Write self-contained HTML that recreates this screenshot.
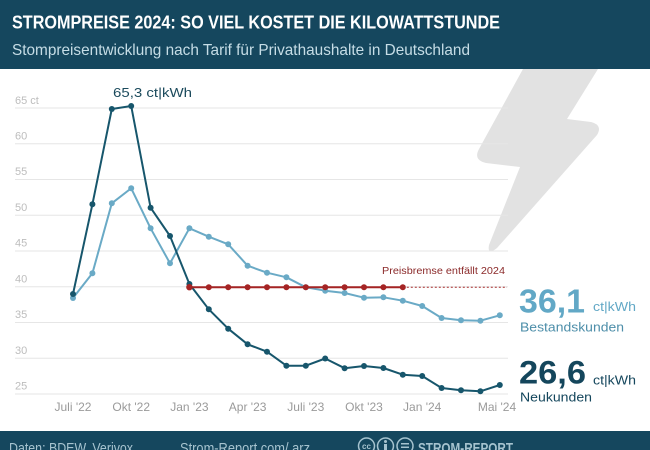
<!DOCTYPE html>
<html><head><meta charset="utf-8">
<style>
html,body{margin:0;padding:0;background:#fff;}
svg{display:block;}
text{font-family:"Liberation Sans",sans-serif;}
</style></head>
<body>
<svg width="650" height="450" viewBox="0 0 650 450" xmlns="http://www.w3.org/2000/svg">
<rect x="0" y="0" width="650" height="450" fill="#ffffff"/>
<!-- header -->
<rect x="0" y="0" width="650" height="69" fill="#15475e"/>
<text x="12" y="28.5" font-size="18" font-weight="bold" fill="#ffffff" textLength="488" lengthAdjust="spacingAndGlyphs">STROMPREISE 2024: SO VIEL KOSTET DIE KILOWATTSTUNDE</text>
<text x="12" y="55" font-size="16" fill="#c6dde6" textLength="458" lengthAdjust="spacingAndGlyphs">Stompreisentwicklung nach Tarif für Privathaushalte in Deutschland</text>

<!-- lightning bolt -->
<path d="M523,69 L598,69 L567,119 L591,122 Q603,125 597,135 L497,248 Q487,256 489,245 L520,167 L486,163 Q473,160 479,149 Z" fill="#e2e2e2"/>

<!-- gridlines -->
<g stroke="#e6e6e6" stroke-width="1">
<line x1="15" x2="508" y1="108" y2="108"/>
<line x1="15" x2="508" y1="143.75" y2="143.75"/>
<line x1="15" x2="508" y1="179.5" y2="179.5"/>
<line x1="15" x2="508" y1="215.25" y2="215.25"/>
<line x1="15" x2="508" y1="251" y2="251"/>
<line x1="15" x2="508" y1="286.75" y2="286.75"/>
<line x1="15" x2="508" y1="322.5" y2="322.5"/>
<line x1="15" x2="508" y1="358.25" y2="358.25"/>
<line x1="15" x2="508" y1="394" y2="394"/>
</g>

<!-- y labels -->
<g font-size="11" fill="#bdbdbd">
<text x="15" y="104">65 ct</text>
<text x="15" y="139.5">60</text>
<text x="15" y="175">55</text>
<text x="15" y="211">50</text>
<text x="15" y="246.5">45</text>
<text x="15" y="282.5">40</text>
<text x="15" y="318">35</text>
<text x="15" y="354">30</text>
<text x="15" y="389.5">25</text>
</g>

<!-- x labels -->
<g font-size="12" fill="#9a9a9a" text-anchor="middle">
<text x="73" y="411">Juli '22</text>
<text x="131.2" y="411">Okt '22</text>
<text x="189.4" y="411">Jan '23</text>
<text x="247.6" y="411">Apr '23</text>
<text x="305.8" y="411">Juli '23</text>
<text x="364" y="411">Okt '23</text>
<text x="422.2" y="411">Jan '24</text>
<text x="497" y="411">Mai '24</text>
</g>

<!-- light series (Bestandskunden) -->
<polyline fill="none" stroke="#6aaac6" stroke-width="2" stroke-linejoin="round" points="73,298 92.4,273.3 111.8,203.3 131.2,188.3 150.6,228.3 170,263.3 189.4,228.3 208.8,236.7 228.2,244.3 247.6,265.7 267,272.7 286.4,277.3 305.8,287.3 325.2,290.7 344.6,293 364,297.7 383.4,297.3 402.8,300.7 422.2,306 441.6,318 461,320.3 480.4,320.7 499.8,315.3"/>
<g fill="#6aaac6">
<circle cx="73" cy="298" r="3"/><circle cx="92.4" cy="273.3" r="3"/><circle cx="111.8" cy="203.3" r="3"/><circle cx="131.2" cy="188.3" r="3"/><circle cx="150.6" cy="228.3" r="3"/><circle cx="170" cy="263.3" r="3"/><circle cx="189.4" cy="228.3" r="3"/><circle cx="208.8" cy="236.7" r="3"/><circle cx="228.2" cy="244.3" r="3"/><circle cx="247.6" cy="265.7" r="3"/><circle cx="267" cy="272.7" r="3"/><circle cx="286.4" cy="277.3" r="3"/><circle cx="305.8" cy="287.3" r="3"/><circle cx="325.2" cy="290.7" r="3"/><circle cx="344.6" cy="293" r="3"/><circle cx="364" cy="297.7" r="3"/><circle cx="383.4" cy="297.3" r="3"/><circle cx="402.8" cy="300.7" r="3"/><circle cx="422.2" cy="306" r="3"/><circle cx="441.6" cy="318" r="3"/><circle cx="461" cy="320.3" r="3"/><circle cx="480.4" cy="320.7" r="3"/><circle cx="499.8" cy="315.3" r="3"/>
</g>

<!-- dark series (Neukunden) -->
<polyline fill="none" stroke="#17566c" stroke-width="2" stroke-linejoin="round" points="73,294 92.4,204.3 111.8,109 131.2,106 150.6,207.7 170,236 189.4,284 208.8,309.3 228.2,328.7 247.6,344.3 267,351.7 286.4,365.7 305.8,365.7 325.2,358.5 344.6,368.2 364,366 383.4,368 402.8,374.7 422.2,376 441.6,388 461,390.3 480.4,391.3 499.8,385"/>
<g fill="#17566c">
<circle cx="73" cy="294" r="3"/><circle cx="92.4" cy="204.3" r="3"/><circle cx="111.8" cy="109" r="3"/><circle cx="131.2" cy="106" r="3"/><circle cx="150.6" cy="207.7" r="3"/><circle cx="170" cy="236" r="3"/><circle cx="189.4" cy="284" r="3"/><circle cx="208.8" cy="309.3" r="3"/><circle cx="228.2" cy="328.7" r="3"/><circle cx="247.6" cy="344.3" r="3"/><circle cx="267" cy="351.7" r="3"/><circle cx="286.4" cy="365.7" r="3"/><circle cx="305.8" cy="365.7" r="3"/><circle cx="325.2" cy="358.5" r="3"/><circle cx="344.6" cy="368.2" r="3"/><circle cx="364" cy="366" r="3"/><circle cx="383.4" cy="368" r="3"/><circle cx="402.8" cy="374.7" r="3"/><circle cx="422.2" cy="376" r="3"/><circle cx="441.6" cy="388" r="3"/><circle cx="461" cy="390.3" r="3"/><circle cx="480.4" cy="391.3" r="3"/><circle cx="499.8" cy="385" r="3"/>
</g>

<!-- red Preisbremse -->
<line x1="402.8" y1="287.2" x2="507" y2="287.2" stroke="#a52a2a" stroke-width="1" stroke-dasharray="2,2"/>
<line x1="189.4" y1="287.2" x2="402.8" y2="287.2" stroke="#a52424" stroke-width="2"/>
<g fill="#a52424">
<circle cx="189.4" cy="287.2" r="3.2"/><circle cx="208.8" cy="287.2" r="3"/><circle cx="228.2" cy="287.2" r="3"/><circle cx="247.6" cy="287.2" r="3"/><circle cx="267" cy="287.2" r="3"/><circle cx="286.4" cy="287.2" r="3"/><circle cx="305.8" cy="287.2" r="3"/><circle cx="325.2" cy="287.2" r="3"/><circle cx="344.6" cy="287.2" r="3"/><circle cx="364" cy="287.2" r="3"/><circle cx="383.4" cy="287.2" r="3"/><circle cx="402.8" cy="287.2" r="3"/>
</g>
<text x="382" y="274" font-size="10" fill="#8b2a2a" textLength="123" lengthAdjust="spacingAndGlyphs">Preisbremse entfällt 2024</text>

<!-- peak label -->
<text x="113" y="97" font-size="13" fill="#1b4a5c" textLength="79" lengthAdjust="spacingAndGlyphs">65,3 ct|kWh</text>

<!-- right side values -->
<text x="519" y="312.5" font-size="33" font-weight="bold" fill="#62a8c6" textLength="66" lengthAdjust="spacingAndGlyphs">36,1</text>
<text x="593" y="311" font-size="13" fill="#62a8c6" textLength="43" lengthAdjust="spacingAndGlyphs">ct|kWh</text>
<text x="520" y="331.5" font-size="13" fill="#4d8ea9" textLength="104" lengthAdjust="spacingAndGlyphs">Bestandskunden</text>

<text x="519" y="383.5" font-size="32" font-weight="bold" fill="#14465c" textLength="67" lengthAdjust="spacingAndGlyphs">26,6</text>
<text x="593" y="384.5" font-size="13" fill="#14465c" textLength="43" lengthAdjust="spacingAndGlyphs">ct|kWh</text>
<text x="520" y="401.5" font-size="13" fill="#14465c" textLength="72" lengthAdjust="spacingAndGlyphs">Neukunden</text>

<!-- footer -->
<rect x="0" y="431" width="650" height="19" fill="#15475e"/>
<text x="9" y="453" font-size="15" fill="#a6c3cf" textLength="124" lengthAdjust="spacingAndGlyphs">Daten: BDEW, Verivox</text>
<text x="180" y="453" font-size="15" fill="#a6c3cf" textLength="130" lengthAdjust="spacingAndGlyphs">Strom-Report.com/ arz</text>
<g fill="none" stroke="#a6c3cf" stroke-width="1.5">
<circle cx="366.5" cy="446" r="8"/>
<circle cx="385.5" cy="446" r="8"/>
<circle cx="405" cy="446" r="8"/>
</g>
<text x="366.5" y="449" font-size="8" fill="#a6c3cf" text-anchor="middle" font-weight="bold">cc</text>
<circle cx="385.5" cy="441.5" r="1.5" fill="#a6c3cf"/>
<rect x="384" y="444" width="3" height="6" fill="#a6c3cf"/>
<rect x="401" y="443" width="8" height="1.5" fill="#a6c3cf"/>
<rect x="401" y="446.5" width="8" height="1.5" fill="#a6c3cf"/>
<text x="418" y="453" font-size="15" font-weight="bold" fill="#a6c3cf" textLength="95" lengthAdjust="spacingAndGlyphs">STROM-REPORT</text>
</svg>
</body></html>
